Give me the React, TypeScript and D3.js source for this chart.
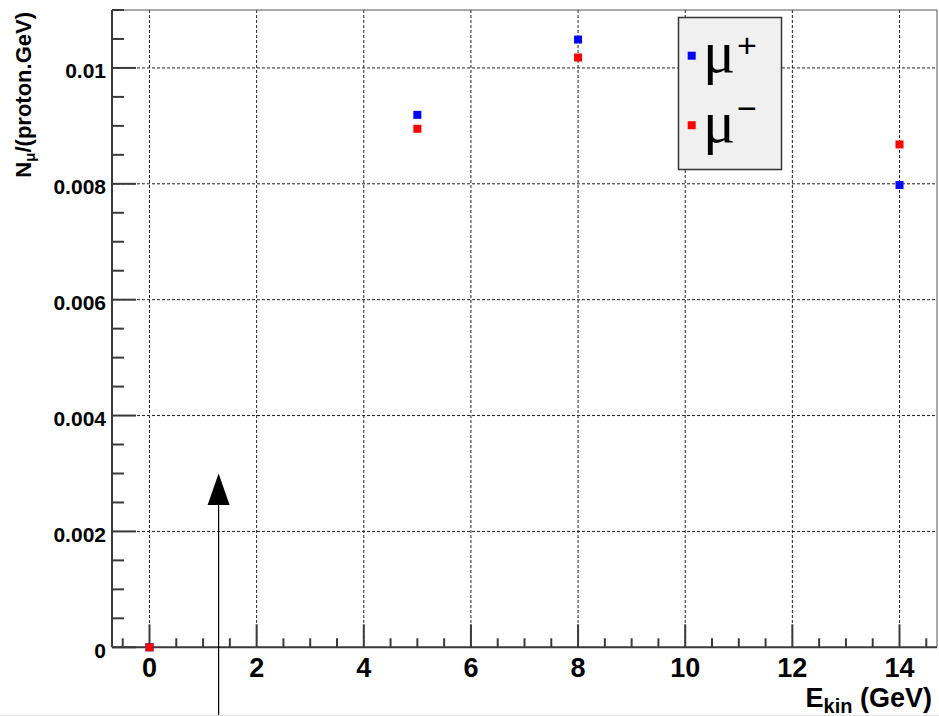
import React from "react";
import * as d3 from "d3";

const energies = [0, 5, 8, 14];
const muPlus = [0, 0.00919, 0.01049, 0.00798];
const muMinus = [0, 0.00895, 0.01018, 0.00868];
const seriesNames = ["+", "\u2212"];
const seriesColors = ["#0000ff", "#ff0000"];
const xTickLabels = ["0", "2", "4", "6", "8", "10", "12", "14"];
const yTickLabels = ["0", "0.002", "0.004", "0.006", "0.008", "0.01"];
const arrowEnergy = [1.29];
const arrowValue = [0.003];

const W = 939;
const H = 716;
const xDomain = [-0.7, 14.7];
const yDomain = [0, 0.011];

export default function App() {
  const x = d3.scaleLinear().domain(xDomain).range([112, 937]);
  const y = d3.scaleLinear().domain(yDomain).range([647.3, 10]);
  const xMajor = xTickLabels.map((t) => +t);
  const yMajor = yTickLabels.map((t) => +t);
  const xMinor = d3.range(-0.5, 14.71, 0.5).filter((v) => !xMajor.some((m) => Math.abs(m - v) < 1e-9));
  const yMinor = d3.range(0.0005, 0.01101, 0.0005).filter((v) => !yMajor.some((m) => Math.abs(m - v) < 1e-9));
  const [x0, x1] = x.range();
  const [y0, y1] = y.range();
  const axisColor = "#3a3a3a";
  const font = "'Liberation Sans', Arial, Helvetica, sans-serif";
  const series = [muPlus, muMinus];
  const ms = 8;
  const ax = x(arrowEnergy[0]);
  const ay = y(arrowValue[0]);

  return (
    <svg width={W} height={H} style={{ position: "absolute", left: 0, top: 0, background: "#fff" }}>
      {/* grid */}
      <g stroke="#222" strokeWidth={1} strokeDasharray="3,2">
        {xMajor.map((v) => (
          <line key={"gx" + v} x1={x(v)} x2={x(v)} y1={y1} y2={y0} />
        ))}
        {yMajor.filter((v) => v > 0).map((v) => (
          <line key={"gy" + v} x1={x0} x2={x1} y1={y(v)} y2={y(v)} />
        ))}
      </g>
      {/* frame top/right */}
      <line x1={x0} x2={x1} y1={y1} y2={y1} stroke="#555" strokeWidth={1} />
      <line x1={x1} x2={x1} y1={y1} y2={y0} stroke="#555" strokeWidth={1} />
      {/* ticks */}
      <g stroke={axisColor} strokeWidth={2}>
        {xMajor.map((v) => (
          <line key={"xM" + v} x1={x(v)} x2={x(v)} y1={y0} y2={y0 - 23} />
        ))}
        {xMinor.map((v) => (
          <line key={"xm" + v} x1={x(v)} x2={x(v)} y1={y0} y2={y0 - 9} />
        ))}
        {yMajor.map((v) => (
          <line key={"yM" + v} x1={x0} x2={x0 + 24} y1={y(v)} y2={y(v)} />
        ))}
        {yMinor.map((v) => (
          <line key={"ym" + v} x1={x0} x2={x0 + 12} y1={y(v)} y2={y(v)} />
        ))}
      </g>
      {/* axes */}
      <line x1={x0} x2={x0} y1={y1} y2={y0} stroke={axisColor} strokeWidth={2} />
      <line x1={x0} x2={x1} y1={y0} y2={y0} stroke={axisColor} strokeWidth={2} />
      {/* tick labels */}
      <g fontFamily={font} fontWeight="bold" fill="#000">
        {yMajor.map((v, i) => (
          <text key={"yl" + v} x={106} y={y(v) + 10.5} fontSize={21} textAnchor="end">
            {yTickLabels[i]}
          </text>
        ))}
        {xMajor.map((v, i) => (
          <text key={"xl" + v} x={x(v)} y={677} fontSize={27} textAnchor="middle">
            {xTickLabels[i]}
          </text>
        ))}
        <text x={932} y={707} fontSize={27} textAnchor="end">
          E
          <tspan fontSize={20} dy={6}>kin</tspan>
          <tspan dy={-6}> (GeV)</tspan>
        </text>
        <text transform="translate(31,12) rotate(-90)" fontSize={22} textAnchor="end">
          N
          <tspan fontSize={15} dy={4}>{"\u03bc"}</tspan>
          <tspan dy={-4}>/(proton.GeV)</tspan>
        </text>
      </g>
      {/* data */}
      {series.map((s, si) => (
        <g key={"s" + si} fill={seriesColors[si]}>
          {s.map((v, i) => (
            <rect key={i} x={x(energies[i]) - ms / 2} y={y(v) - ms / 2} width={ms} height={ms} />
          ))}
        </g>
      ))}
      {/* legend */}
      <rect x={678.5} y={17.5} width={103} height={152} fill="#f0f0f0" stroke="#333" strokeWidth={1.5} />
      {seriesNames.map((n, i) => {
        const by = 72 + i * 69.5;
        return (
          <g key={"lg" + i}>
            <rect x={691.7 - ms / 2} y={by - 16.3 - ms / 2} width={ms} height={ms} fill={seriesColors[i]} />
            <text x={703} y={by} fontSize={60} fontFamily="'Liberation Serif', 'Times New Roman', serif" fill="#000">
              {"\u03bc"}
            </text>
            <text x={737} y={by - (i === 0 ? 15 : 22)} fontSize={34} fontFamily={font} fill="#000">
              {n}
            </text>
          </g>
        );
      })}
      {/* arrow */}
      <line x1={ax} x2={ax} y1={H + 5} y2={ay + 20} stroke="#000" strokeWidth={1.2} />
      <path d={`M${ax},${ay} L${ax - 11},${ay + 31.5} L${ax + 11},${ay + 31.5} Z`} fill="#000" />
      <line x1={0} x2={W} y1={715.5} y2={715.5} stroke="#e6e6e6" strokeWidth={1} />
    </svg>
  );
}
